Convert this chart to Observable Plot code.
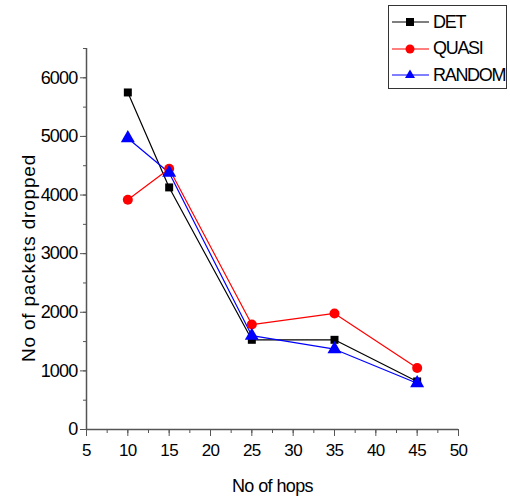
<!DOCTYPE html>
<html>
<head>
<meta charset="utf-8">
<script src="https://cdn.jsdelivr.net/npm/d3@7"></script>
<script src="https://cdn.jsdelivr.net/npm/@observablehq/plot@0.6"></script>
<style>
  html, body { margin: 0; padding: 0; background: #fff; }
  #wrap { position: relative; width: 510px; height: 501px; font-family: "Liberation Sans", Arial, sans-serif; }
  #legend { position: absolute; left: 388px; top: 5px; width: 119px; height: 84px; border: 1px solid #333; box-sizing: border-box; background: #fff; }
  #legend .row { position: absolute; left: 0; height: 20px; display: flex; align-items: center; font-size: 18px; letter-spacing: -1.3px; }
  #legend svg { margin-left: 3px; margin-right: 3px; }
  .xt text { letter-spacing: -0.6px; }
  .yt text { letter-spacing: -0.8px; }
</style>
</head>
<body>
<div id="wrap"></div>
<script>
const hops = [10, 15, 25, 35, 45];
const det = [5750, 4130, 1530, 1530, 820];
const quasi = [3920, 4450, 1790, 1980, 1050];
const random = [4970, 4380, 1600, 1370, 790];
const seriesNames = ["DET", "QUASI", "RANDOM"];
const seriesColors = ["#000000", "#ff0000", "#0000ff"];
const seriesSymbols = ["square", "circle", "triangle"];
const xTicks = [5, 10, 15, 20, 25, 30, 35, 40, 45, 50];
const yTicks = [0, 1000, 2000, 3000, 4000, 5000, 6000];

const seriesValues = [det, quasi, random];
const data = [];
seriesNames.forEach((name, i) => {
  hops.forEach((h, j) => data.push({series: name, hops: h, value: seriesValues[i][j]}));
});
const xMinor = d3.range(5, 50.01, 2.5);
const yMinor = d3.range(0, 6500.01, 500);

const font = "Liberation Sans, Arial, sans-serif";
const chart = Plot.plot({
  width: 510,
  height: 501,
  marginLeft: 86,
  marginRight: 52,
  marginTop: 48,
  marginBottom: 72,
  style: {fontFamily: font, fontSize: "17px", color: "#000", background: "#fff"},
  x: {domain: [5, 50]},
  y: {domain: [0, 6500]},
  color: {domain: seriesNames, range: seriesColors},
  symbol: {domain: seriesNames, range: seriesSymbols},
  marks: [
    Plot.axisX({ticks: xMinor, tickSize: 4, tickFormat: () => "", label: null, stroke: "#555"}),
    Plot.axisX({ticks: xTicks, tickSize: 7, tickPadding: 7, label: null, stroke: "#555", fontSize: 17, className: "xt"}),
    Plot.axisY({ticks: yMinor, tickSize: 3, tickFormat: () => "", label: null, stroke: "#555"}),
    Plot.axisY({ticks: yTicks, tickSize: 6, tickPadding: 3, tickFormat: d => String(d), label: null, stroke: "#555", fontSize: 18, className: "yt"}),
    Plot.ruleY([0], {stroke: "#555", strokeWidth: 1.5}),
    Plot.ruleX([5], {stroke: "#555", strokeWidth: 1.5}),
    Plot.line(data, {x: "hops", y: "value", z: "series", stroke: "series", strokeWidth: 1.2}),
    Plot.dot(data.filter(d => d.series === "DET"), {x: "hops", y: "value", symbol: "series", fill: "series", r: 4.5}),
    Plot.dot(data.filter(d => d.series === "QUASI"), {x: "hops", y: "value", symbol: "series", fill: "series", r: 5}),
    Plot.dot(data.filter(d => d.series === "RANDOM"), {x: "hops", y: "value", symbol: "series", fill: "series", r: 5.2}),
    Plot.text(["No of hops"], {frameAnchor: "bottom", dy: 62, fontSize: 18, fill: "#000", className: "xt", textAnchor: "middle"}),
    Plot.text(["No of packets dropped"], {frameAnchor: "left", textAnchor: "middle", rotate: -90, dx: -58, dy: 19, fontSize: 19, fill: "#000", className: "ytitle"})
  ]
});
const wrap = document.getElementById("wrap");
wrap.appendChild(chart);
chart.querySelectorAll(".ytitle text").forEach(t => t.style.letterSpacing = "0.8px");

const legend = document.createElement("div");
legend.id = "legend";
const symPaths = {
  square: '<rect x="14" y="6" width="8" height="8"/>',
  circle: '<circle cx="18" cy="10" r="4.5"/>',
  triangle: '<path d="M18,4.5 L23,13 L13,13 Z"/>'
};
seriesNames.forEach((name, i) => {
  const row = document.createElement("div");
  row.className = "row";
  row.style.top = (6 + i * 26.5) + "px";
  const c = seriesColors[i];
  row.innerHTML = `<svg width="38" height="20"><line x1="0" x2="37" y1="10" y2="10" stroke="${c}" stroke-width="1.2"/><g fill="${c}">${symPaths[seriesSymbols[i]]}</g></svg><span>${name}</span>`;
  legend.appendChild(row);
});
wrap.appendChild(legend);
</script>
</body>
</html>
